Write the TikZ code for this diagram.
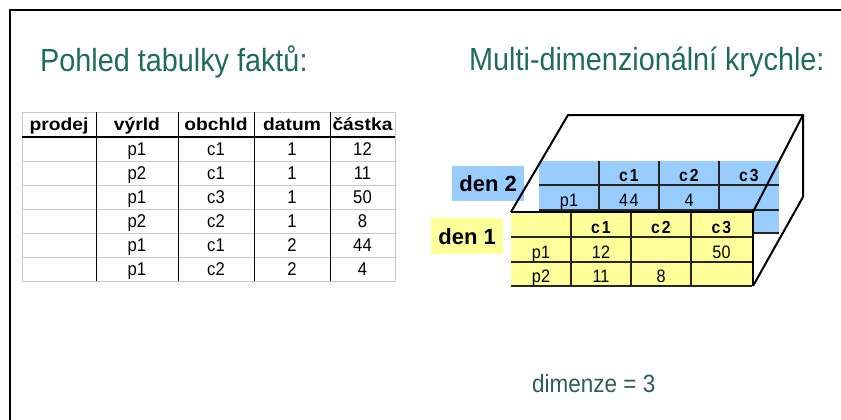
\documentclass[tikz,border=0pt]{standalone}
\usepackage{fontspec}
\setmainfont{Liberation Sans}
\newfontfamily\hdrfont[FakeStretch=1.1]{Liberation Sans}
\newfontfamily\tallfont[FakeStretch=0.9]{Liberation Sans}
\definecolor{titlegreen}{HTML}{1F6B5C}
\definecolor{dimgreen}{HTML}{2E5E5A}
\definecolor{cubeblue}{HTML}{99CCFF}
\definecolor{cubeyellow}{HTML}{FFFF99}
\definecolor{gridgray}{HTML}{C8C8C8}
\tikzset{
  title/.style={anchor=west, inner sep=0pt, text=titlegreen, font=\tallfont\fontsize{32}{36}\selectfont},
  hd/.style={anchor=base, inner sep=0pt, font=\hdrfont\bfseries\fontsize{17.5}{20}\selectfont},
  bd/.style={anchor=base, inner sep=0pt, font=\tallfont\fontsize{18.5}{21}\selectfont},
  cb/.style={anchor=base, inner sep=0pt, font=\tallfont\fontsize{18}{21}\selectfont},
  ch/.style={anchor=base, inner sep=0pt, font=\tallfont\bfseries\fontsize{17.5}{20}\selectfont},
  dlabel/.style={inner sep=0pt, font=\bfseries\fontsize{22}{25}\selectfont},
  tline/.style={line width=1.5pt, draw=black!85},
  edge/.style={line width=2pt, draw=black, line join=round},
  gline/.style={line width=0.8pt, draw=gridgray}
}
\begin{document}
\begin{tikzpicture}[x=1pt,y=-1pt]
\useasboundingbox (0,0) rectangle (841,420);
% frame
\draw[line width=2pt] (10,420) -- (10,10) -- (841,10);
% titles
\node[title] (t1) at (40,62) {Pohled tabulky faktů:};
\node[title] (t2) at (469,62) {Multi-dimenzionální krychle:};
\node[anchor=west, inner sep=0pt, text=dimgreen, font=\tallfont\fontsize{25}{28}\selectfont] (dim) at (532,384) {dimenze = 3};

% ---------- fact table ----------
\foreach \yy in {161,185,209,233,257}
  \draw[gline] (22,\yy) -- (395,\yy);
\draw[gline] (22,112) rectangle (395,281);
\draw[line width=1.6pt] (22,137) -- (395,137);
\foreach \xx in {96,178,254,330}
  \draw[line width=1pt] (\xx,112) -- (\xx,281);
\node[hd] (h1) at (59,130.5) {prodej};
\node[hd] (h2) at (137,130.5) {výrld};
\node[hd] (h3) at (216,130.5) {obchld};
\node[hd] (h4) at (292,130.5) {datum};
\node[hd] (h5) at (362.5,130.5) {částka};
\foreach [count=\r] \a/\b/\c/\d in {p1/c1/1/12, p2/c1/1/11, p1/c3/1/50, p2/c2/1/8, p1/c1/2/44, p1/c2/2/4}{
  \node[bd] (ra\r) at (137,{131+24*\r}) {\a};
  \node[bd] (rb\r) at (216,{131+24*\r}) {\b};
  \node[bd] (rc\r) at (292,{131+24*\r}) {\c};
  \node[bd] (rd\r) at (362.5,{131+24*\r}) {\d};
}

% ---------- cube ----------
% den 2 slice (blue)
\fill[cubeblue] (539,161) rectangle (779,233);
\foreach \yy in {185,210,233}
  \draw[tline] (539,\yy) -- (779,\yy);
\foreach \xx in {599,659,719}
  \draw[tline] (\xx,161) -- (\xx,233);
\node[ch] (bc1) at (629,181.5) {c\kern2pt 1};
\node[ch] (bc2) at (689,181.5) {c\kern2pt 2};
\node[ch] (bc3) at (749,181.5) {c\kern2pt 3};
\node[cb] (bp1) at (569,206) {p1};
\node[cb] (b44) at (629,206) {4\kern1.5pt 4};
\node[cb] (b4) at (689,206) {4};
\node[fill=cubeblue, minimum width=72pt, minimum height=35pt, inner sep=0pt, anchor=north west] (den2box) at (452,166) {};
\node[dlabel] (den2) at (den2box.center) {den 2};

% den 1 slice (yellow)
\fill[cubeyellow] (511,212) rectangle (752,286);
\foreach \yy in {237,262,286}
  \draw[tline] (511,\yy) -- (752,\yy);
\foreach \xx in {571,631,691}
  \draw[tline] (\xx,212) -- (\xx,286);
\node[ch] (yc1) at (601,233) {c\kern2pt 1};
\node[ch] (yc2) at (661,233) {c\kern2pt 2};
\node[ch] (yc3) at (721.5,233) {c\kern2pt 3};
\node[cb] (yp1) at (541,258.5) {p1};
\node[cb] (y12) at (601,258.5) {12};
\node[cb] (y50) at (721.5,258.5) {50};
\node[cb] (yp2) at (541,282) {p2};
\node[cb] (y11) at (601,282) {11};
\node[cb] (y8) at (661,282) {8};
\node[fill=cubeyellow, minimum width=72pt, minimum height=36pt, inner sep=0pt, anchor=north west] (den1box) at (431,218) {};
\node[dlabel] (den1) at (den1box.center) {den 1};

% cube edges
\coordinate (fl) at (511,212);
\coordinate (fr) at (753,212);
\coordinate (br) at (753,286);
\coordinate (tl) at (568,115);
\coordinate (tr) at (803,115);
\coordinate (rb) at (803,197);
\draw[edge] (fl) -- (tl) -- (tr) -- (rb) -- (br);
\draw[edge] (tr) -- (fr);
\draw[edge] (fl) -- (fr) -- (br);
\end{tikzpicture}
\end{document}
